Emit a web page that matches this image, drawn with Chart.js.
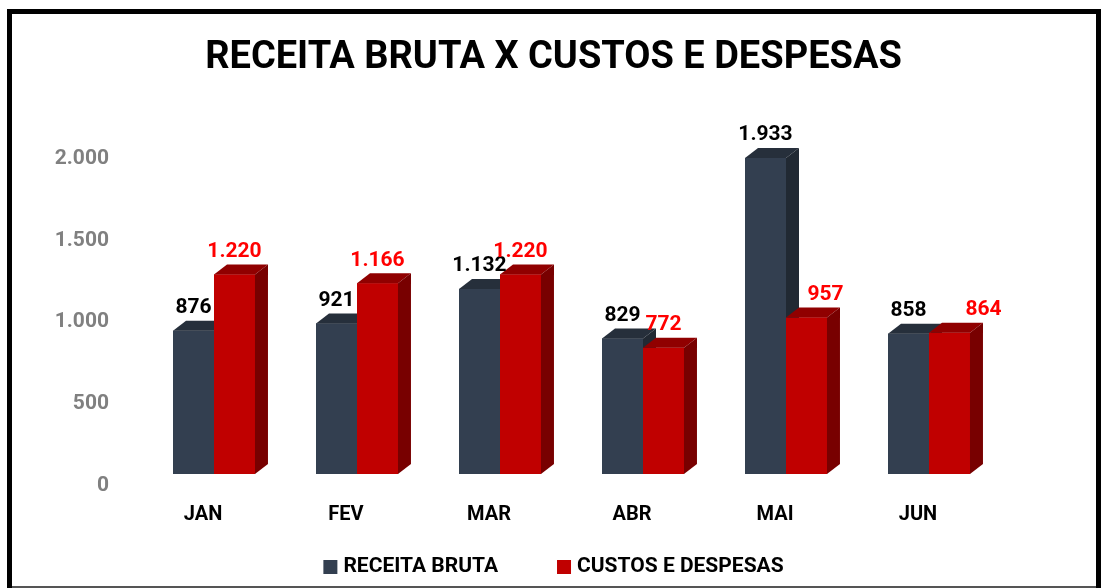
<!DOCTYPE html>
<html>
<head>
<meta charset="utf-8">
<script src="https://cdn.jsdelivr.net/npm/chart.js@4/dist/chart.umd.min.js"></script>
<style>
  html, body { margin: 0; padding: 0; background: #fff; }
  #wrap { width: 1103px; height: 588px; }
</style>
</head>
<body>
<div id="wrap"><canvas id="chart" width="1103" height="588"></canvas></div>
<script>
const months = ['JAN', 'FEV', 'MAR', 'ABR', 'MAI', 'JUN'];
const receitaBruta = [876, 921, 1132, 829, 1933, 858];
const custosDespesas = [1220, 1166, 1220, 772, 957, 864];
const yMax = 2000;
const yStep = 500;

const font = "Roboto, 'Liberation Sans', Arial, sans-serif";

// pt-BR thousands separator
const fmt = (v) => String(v).replace(/\B(?=(\d{3})+(?!\d))/g, '.');

const DX = 13, DY = 10; // fake depth of the 3d bars

const frame = {
  id: 'frame',
  beforeDraw(chart) {
    const ctx = chart.ctx;
    ctx.save();
    ctx.fillStyle = '#fff';
    ctx.fillRect(0, 0, chart.width, chart.height);
    ctx.fillStyle = '#000';
    ctx.fillRect(7, 9, 5, 579);
    ctx.fillRect(1096, 9, 5, 579);
    ctx.fillRect(7, 9, 1094, 5);
    ctx.fillStyle = '#555';
    ctx.fillRect(12, 586, 1084, 2);
    ctx.restore();
  }
};

// redraws every bar as a box: front, top and right side
const bar3d = {
  id: 'bar3d',
  afterDatasetsDraw(chart) {
    const ctx = chart.ctx;
    ctx.save();
    chart.data.datasets.forEach((ds, i) => {
      chart.getDatasetMeta(i).data.forEach((bar) => {
        const { x, y, base, width } = bar.getProps(['x', 'y', 'base', 'width'], true);
        const x0 = x - width / 2, x1 = x + width / 2;
        ctx.fillStyle = ds.backgroundColor;
        ctx.fillRect(x0, y, width, base - y);
        ctx.fillStyle = ds.topColor;
        ctx.beginPath();
        ctx.moveTo(x0, y);
        ctx.lineTo(x0 + DX, y - DY);
        ctx.lineTo(x1 + DX, y - DY);
        ctx.lineTo(x1, y);
        ctx.closePath();
        ctx.fill();
        ctx.fillStyle = ds.sideColor;
        ctx.beginPath();
        ctx.moveTo(x1, y);
        ctx.lineTo(x1 + DX, y - DY);
        ctx.lineTo(x1 + DX, base - DY);
        ctx.lineTo(x1, base);
        ctx.closePath();
        ctx.fill();
      });
    });
    // value labels
    ctx.font = 'bold 21px ' + font;
    ctx.textAlign = 'center';
    ctx.textBaseline = 'middle';
    chart.data.datasets.forEach((ds, i) => {
      chart.getDatasetMeta(i).data.forEach((bar, j) => {
        const nudge = (ds.labelNudge && ds.labelNudge[j]) || 0;
        ctx.fillStyle = ds.labelColor;
        ctx.fillText(fmt(ds.data[j]), bar.x + nudge, bar.y - 23);
      });
    });
    ctx.restore();
  }
};

// legend under the axis, Excel style (square + bold caps)
const legendBottom = {
  id: 'legendBottom',
  afterDraw(chart) {
    const ctx = chart.ctx;
    const box = 14, gap = 6, itemGap = 59, cy = 566;
    ctx.save();
    ctx.font = 'bold 21px ' + font;
    ctx.textBaseline = 'middle';
    ctx.textAlign = 'left';
    const items = chart.data.datasets.map((ds) => ({ ds, w: ctx.measureText(ds.label).width }));
    const total = items.reduce((s, it) => s + box + gap + it.w, 0) + itemGap * (items.length - 1);
    let x = 553.5 - total / 2;
    items.forEach((it) => {
      ctx.fillStyle = it.ds.backgroundColor;
      ctx.fillRect(x, cy - 6, box, box);
      ctx.fillStyle = '#000';
      ctx.fillText(it.ds.label, x + box + gap, cy + 1);
      x += box + gap + it.w + itemGap;
    });
    ctx.restore();
  }
};

new Chart(document.getElementById('chart'), {
  type: 'bar',
  data: {
    labels: months,
    datasets: [
      {
        label: 'RECEITA BRUTA',
        data: receitaBruta,
        backgroundColor: '#333F50',
        topColor: '#262F3B',
        sideColor: '#212933',
        labelColor: '#000',
        barPercentage: 1,
        categoryPercentage: 0.573,
      },
      {
        label: 'CUSTOS E DESPESAS',
        data: custosDespesas,
        backgroundColor: '#C00000',
        topColor: '#900000',
        sideColor: '#780000',
        labelColor: '#FF0000',
        labelNudge: [0, 0, 0, 0, 19, 34],
        barPercentage: 1,
        categoryPercentage: 0.573,
      },
    ],
  },
  options: {
    responsive: false,
    animation: false,
    devicePixelRatio: 1,
    layout: { padding: { left: 4, right: 0, top: 0, bottom: 57 } },
    scales: {
      x: {
        grid: { display: false, drawTicks: false },
        border: { display: false },
        ticks: {
          color: '#000',
          font: { family: font, size: 20, weight: 'bold' },
          padding: 28.5,
          labelOffset: -11,
        },
        afterFit: (s) => { s.height = 57; },
      },
      y: {
        min: 0,
        max: yMax,
        grid: { display: false, drawTicks: false },
        border: { display: false },
        ticks: {
          stepSize: yStep,
          color: '#808080',
          font: { family: font, size: 21, weight: 'bold' },
          padding: 33.5,
          labelOffset: 11.5,
          callback: (v) => fmt(v),
        },
        afterFit: (s) => { s.width = 138.5; },
      },
      yRight: {
        position: 'right',
        display: true,
        grid: { display: false, drawTicks: false },
        border: { display: false },
        ticks: { display: false },
        afterFit: (s) => { s.width = 102.5; },
      },
    },
    plugins: {
      title: {
        display: true,
        text: 'RECEITA BRUTA X CUSTOS E DESPESAS',
        color: '#000',
        font: { family: font, size: 38, weight: 'bold', lineHeight: 1.2 },
        padding: { top: 35.2, bottom: 66.2 },
      },
      legend: { display: false },
      tooltip: { enabled: false },
    },
  },
  plugins: [frame, bar3d, legendBottom],
});
</script>
</body>
</html>
